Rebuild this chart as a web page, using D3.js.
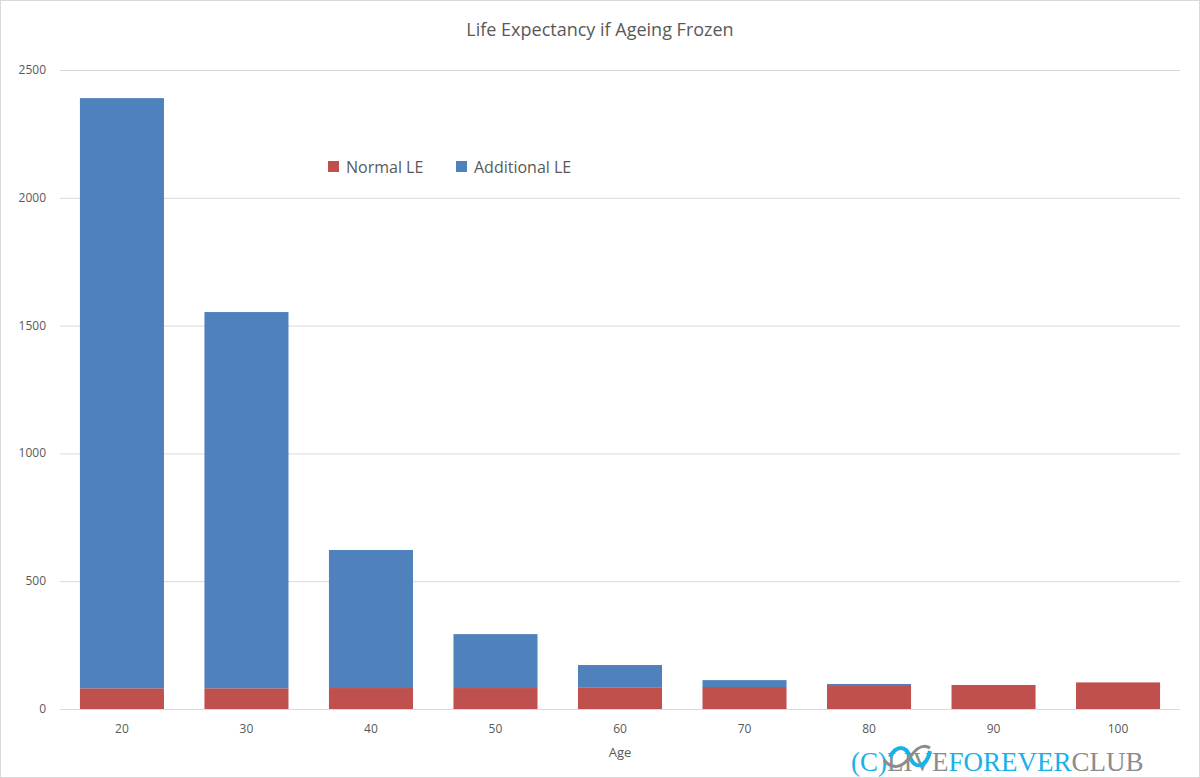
<!DOCTYPE html>
<html><head><meta charset="utf-8">
<script src="https://cdn.jsdelivr.net/npm/d3@7"></script>
<style>body{margin:0;background:#fff}</style>
</head><body><div id="chart"></div>
<script>
const ages = ['20', '30', '40', '50', '60', '70', '80', '90', '100'];
const normalLE = [81, 81, 82, 82, 83, 86, 90, 94, 104];
const additionalLE = [2309, 1472, 540, 211, 89, 27, 8, 0, 0];
const yTicks = [0, 500, 1000, 1500, 2000, 2500];

const width = 1200, height = 778;
const margin = {top: 70, right: 20, bottom: 69, left: 60};

let svg = d3.select('#chart').append('svg')
  .attr('width', width).attr('height', height)
  .style('font-family', 'Open Sans, sans-serif');

svg.append('rect').attr('x', 0.5).attr('y', 0.5)
  .attr('width', width - 1).attr('height', height - 1)
  .attr('fill', '#fff').attr('stroke', '#d9d9d9');

let x = d3.scaleBand().domain(ages)
  .range([margin.left, width - margin.right]).paddingInner(0.325).paddingOuter(0.16);
let y = d3.scaleLinear().domain([0, 2500])
  .range([height - margin.bottom, margin.top]);

// gridlines
svg.append('g').selectAll('line').data(yTicks).enter().append('line')
  .attr('x1', margin.left).attr('x2', width - margin.right)
  .attr('y1', d => y(d) + 0.5).attr('y2', d => y(d) + 0.5)
  .attr('stroke', '#d9d9d9');

svg.append('g').selectAll('text').data(yTicks).enter().append('text')
  .attr('x', 46).attr('y', d => y(d) + 4)
  .attr('text-anchor', 'end').attr('font-size', 12).attr('fill', '#595959')
  .text(d => d);

let rows = ages.map((a, i) => ({age: a, normal: normalLE[i], add: additionalLE[i]}));

svg.append('g').selectAll('rect').data(rows).enter().append('rect')
  .attr('x', d => x(d.age)).attr('width', x.bandwidth())
  .attr('y', d => y(d.normal)).attr('height', d => y(0) - y(d.normal))
  .attr('fill', '#c0504d');

svg.append('g').selectAll('rect').data(rows.filter(d => d.add > 0)).enter().append('rect')
  .attr('x', d => x(d.age)).attr('width', x.bandwidth())
  .attr('y', d => y(d.normal + d.add)).attr('height', d => y(d.normal) - y(d.normal + d.add))
  .attr('fill', '#4f81bd');

svg.append('g').selectAll('text').data(ages).enter().append('text')
  .attr('x', d => x(d) + x.bandwidth() / 2).attr('y', 733)
  .attr('text-anchor', 'middle').attr('font-size', 12).attr('fill', '#595959')
  .text(d => d);

svg.append('text').attr('x', 620).attr('y', 757).attr('text-anchor', 'middle')
  .attr('font-size', 13).attr('fill', '#595959').text('Age');

svg.append('text').attr('x', 600).attr('y', 36).attr('text-anchor', 'middle')
  .attr('font-size', 18).attr('fill', '#595959').text('Life Expectancy if Ageing Frozen');

// legend
let legend = [['Normal LE', '#c0504d', 328], ['Additional LE', '#4f81bd', 456]];
legend.forEach(([name, col, lx]) => {
  svg.append('rect').attr('x', lx).attr('y', 161).attr('width', 11).attr('height', 11).attr('fill', col);
  svg.append('text').attr('x', lx + 18).attr('y', 173).attr('font-size', 16)
    .attr('fill', '#595959').text(name);
});

// logo
let logo = svg.append('text').attr('x', 851).attr('y', 771)
  .attr('font-family', 'Liberation Serif, serif').attr('font-size', 27);
logo.append('tspan').attr('fill', '#1ab0e8').text('(C)');
logo.append('tspan').attr('fill', '#1ab0e8').attr('dx', 42).text('');
logo.append('tspan').attr('fill', '#8c8c8c').text('LIVE');
logo.append('tspan').attr('fill', '#1ab0e8').text('FOREVER');
logo.append('tspan').attr('fill', '#8c8c8c').text('CLUB');
svg.append('path')
  .attr('d', 'M890,757 C896,745 906,745 910,757 C914,769 926,769 930,751')
  .attr('fill', 'none').attr('stroke', '#1ab0e8').attr('stroke-width', 4);
svg.append('path')
  .attr('d', 'M884,760 C892,770 902,768 910,757 C918,746 924,744 930,748')
  .attr('fill', 'none').attr('stroke', '#8c8c8c').attr('stroke-width', 3);
</script></body></html>
